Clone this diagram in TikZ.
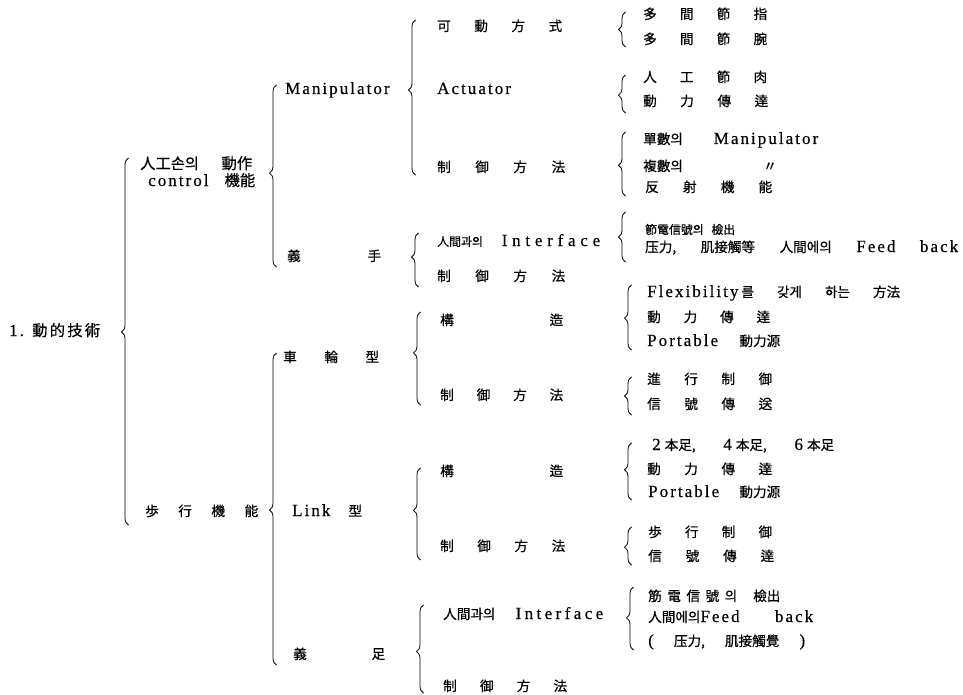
\documentclass[tikz,border=0pt]{standalone}
\usepackage{fontspec}
\setmainfont{Liberation Serif}[LetterSpace=12,FakeBold=0.4]
\newfontfamily\cjk{Noto Sans CJK KR}[Scale=0.8,FakeBold=0.6]
\newfontfamily\cjs{Noto Sans CJK KR}[Scale=0.7,FakeBold=0.6]
\newfontfamily\cjkL{Noto Sans CJK KR}[Scale=0.9,FakeBold=0.6]
\usetikzlibrary{decorations.pathreplacing}
\newcommand\SP[2]{\makebox[#1pt][s]{#2}}
\newcommand\K[1]{{\cjk #1}}
\begin{document}
\begin{tikzpicture}[x=1pt,y=-1pt,
 t/.style={anchor=west,inner sep=0pt,text height=11pt,text depth=3pt,font=\fontsize{17}{20}\selectfont},
 br/.style={decorate,decoration={brace,amplitude=7pt,aspect=#1},line width=0.8pt}]
\useasboundingbox (0,0) rectangle (963,695);
% level 0
\node[t] (root) at (9,332) {\makebox[23pt][l]{1.}\SP{68}{\cjkL 動\hfill 的\hfill 技\hfill 術}};
% level 1
\node[t] (hand1) at (140,165) {\SP{112}{\cjkL 人工손의\hfill 動作}};
\node[t] (hand2) at (148,182) {\SP{107}{control\hfill{\cjkL 機能}}};
\node[t] (walk) at (145,512) {\SP{113}{\cjk 歩\hfill 行\hfill 機\hfill 能}};
% level 2
\node[t] (manip) at (285,90) {Manipulator};
\node[t] (ghand) at (287,257) {\SP{94}{\cjk 義\hfill 手}};
\node[t] (wheel) at (283,358) {\SP{96}{\cjk 車\hfill 輪\hfill 型}};
\node[t] (link) at (292,512) {\SP{70}{Link\hfill\K{型}}};
\node[t] (gfoot) at (293,655) {\SP{92}{\cjk 義\hfill 足}};
% level 3
\node[t] (m1) at (437,27) {\SP{125}{\cjk 可\hfill 動\hfill 方\hfill 式}};
\node[t] (m2) at (437,90) {Actuator};
\node[t] (m3) at (437,168) {\SP{128}{\cjk 制\hfill 御\hfill 方\hfill 法}};
\node[t] (h1) at (437,242) {\SP{163}{{\cjs 人間과의}\hfill{\addfontfeature{LetterSpace=28}Interface}}};
\node[t] (h2) at (437,277) {\SP{128}{\cjk 制\hfill 御\hfill 方\hfill 法}};
\node[t] (w1) at (440,321) {\SP{123}{\cjk 構\hfill 造}};
\node[t] (w2) at (440,396) {\SP{123}{\cjk 制\hfill 御\hfill 方\hfill 法}};
\node[t] (l1) at (440,472) {\SP{123}{\cjk 構\hfill 造}};
\node[t] (l2) at (440,547) {\SP{125}{\cjk 制\hfill 御\hfill 方\hfill 法}};
\node[t] (f1) at (443,615) {\SP{160}{\K{人間과의}\hfill{\addfontfeature{LetterSpace=20}Interface}}};
\node[t] (f2) at (443,687) {\SP{124}{\cjk 制\hfill 御\hfill 方\hfill 法}};
% level 4
\node[t] (a1) at (643,15) {\SP{124}{\cjk 多\hfill 間\hfill 節\hfill 指}};
\node[t] (a2) at (643,40) {\SP{124}{\cjk 多\hfill 間\hfill 節\hfill 腕}};
\node[t] (b1) at (643,78) {\SP{124}{\cjk 人\hfill 工\hfill 節\hfill 肉}};
\node[t] (b2) at (643,102) {\SP{125}{\cjk 動\hfill 力\hfill 傳\hfill 達}};
\node[t] (c1) at (643,140) {\SP{175}{\K{單數의}\hfill Manipulator}};
\node[t] (c2) at (643,167) {\makebox[120pt][l]{\K{複數의}}\K{〃}};
\node[t] (c3) at (645,188) {\SP{127}{\cjk 反\hfill 射\hfill 機\hfill 能}};
\node[t] (d1) at (645,230) {\SP{90}{\cjs 節電信號의\hfill 檢出}};
\node[t] (d2) at (645,248) {\SP{313}{\cjk 压力,\hfill 肌接觸等\hfill 人間에의\hfill{\rmfamily Feed}\hfill{\rmfamily back}}};
\node[t] (e1) at (647,293) {\SP{253}{Flexibility\hspace{3pt}\K{를}\hfill\K{갖게}\hfill\K{하는}\hfill\K{方法}}};
\node[t] (e2) at (647,318) {\SP{123}{\cjk 動\hfill 力\hfill 傳\hfill 達}};
\node[t] (e3) at (647,342) {\SP{133}{Portable\hfill\K{動力源}}};
\node[t] (g1) at (647,380) {\SP{125}{\cjk 進\hfill 行\hfill 制\hfill 御}};
\node[t] (g2) at (647,405) {\SP{125}{\cjk 信\hfill 號\hfill 傳\hfill 送}};
\node[t] (k1) at (652,446) {\SP{182}{2\hspace{4pt}\K{本足,}\hfill 4\hspace{4pt}\K{本足,}\hfill 6\hspace{4pt}\K{本足}}};
\node[t] (k2) at (647,470) {\SP{125}{\cjk 動\hfill 力\hfill 傳\hfill 達}};
\node[t] (k3) at (648,493) {\SP{132}{Portable\hfill\K{動力源}}};
\node[t] (p1) at (648,533) {\SP{124}{\cjk 歩\hfill 行\hfill 制\hfill 御}};
\node[t] (p2) at (648,557) {\SP{126}{\cjk 信\hfill 號\hfill 傳\hfill 達}};
\node[t] (q1) at (648,597) {\SP{89}{\cjk 筋\hfill 電\hfill 信\hfill 號\hfill 의}\hspace{16pt}\K{檢出}};
\node[t] (q2) at (648,618) {\SP{165}{\K{人間에의}Feed\hfill back}};
\node[t] (q3) at (648,642) {\SP{157}{(\hfill\K{压力,}\hfill\K{肌接觸覺}\hfill )}};
% braces
\draw[br=0.526] (128.5,525) -- (128.5,158);
\draw[br=0.516] (276.5,267) -- (276.5,85);
\draw[br=0.497] (276.5,665) -- (276.5,353);
\draw[br=0.548] (415.5,175) -- (415.5,20);
\draw[br=0.556] (418.5,287) -- (418.5,233);
\draw[br=0.56] (420.5,405) -- (420.5,312);
\draw[br=0.54] (420.5,560) -- (420.5,468);
\draw[br=0.47] (423.5,693) -- (423.5,605);
\draw[br=0.5] (625.5,47) -- (625.5,12);
\draw[br=0.47] (625.5,113) -- (625.5,75);
\draw[br=0.48] (625.5,196) -- (625.5,132);
\draw[br=0.5] (625.5,262) -- (625.5,212);
\draw[br=0.49] (631.5,350) -- (631.5,285);
\draw[br=0.5] (631.5,415) -- (631.5,377);
\draw[br=0.53] (631.5,500) -- (631.5,443);
\draw[br=0.47] (631.5,565) -- (631.5,527);
\draw[br=0.51] (633.5,650) -- (633.5,587);
\end{tikzpicture}
\end{document}
